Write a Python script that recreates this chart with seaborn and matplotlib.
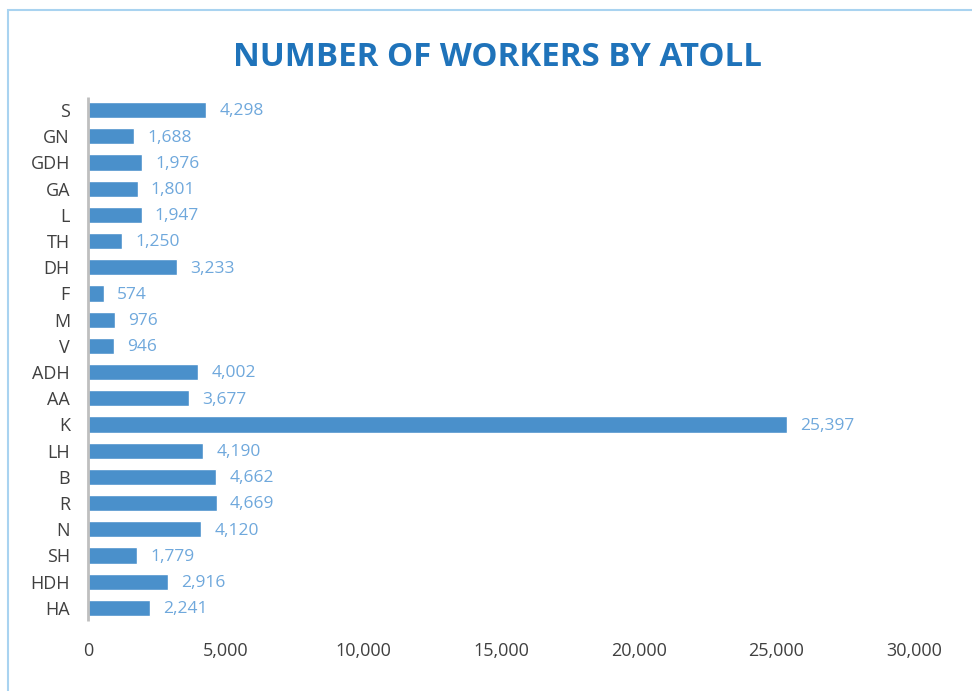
import matplotlib
matplotlib.use("Agg")
import matplotlib.pyplot as plt
import matplotlib.patches as patches
import seaborn as sns
import pandas as pd

# Atolls (top to bottom) and worker counts
atolls = ["S", "GN", "GDH", "GA", "L", "TH", "DH", "F", "M", "V",
          "ADH", "AA", "K", "LH", "B", "R", "N", "SH", "HDH", "HA"]
workers = [4298, 1688, 1976, 1801, 1947, 1250, 3233, 574, 976, 946,
           4002, 3677, 25397, 4190, 4662, 4669, 4120, 1779, 2916, 2241]
x_ticks = [0, 5000, 10000, 15000, 20000, 25000, 30000]

df = pd.DataFrame({"atoll": atolls, "workers": workers})

sns.set_style("white")
plt.rcParams["font.family"] = ["Open Sans", "DejaVu Sans"]

fig = plt.figure(figsize=(9.72, 6.91), dpi=100)
ax = fig.add_axes([88 / 972, 1 - 621 / 691, (914 - 88) / 972, (621 - 97) / 691])

sns.barplot(data=df, x="workers", y="atoll", orient="h", color="#4A90CB",
            width=0.62, saturation=1, ax=ax)

# data labels
for i, v in enumerate(workers):
    ax.text(v + 470, i + 0.05, f"{v:,}", va="center", ha="left",
            fontsize=12.5, color="#6FA8DC")

ax.set_xlim(0, 30000)
ax.set_ylim(len(atolls) - 0.5, -0.5)
ax.set_xticks(x_ticks)
ax.set_xticklabels([f"{t:,}" for t in x_ticks])
ax.set_xlabel("")
ax.set_ylabel("")
ax.tick_params(axis="x", length=0, pad=15, labelsize=13, labelcolor="#404040")
ax.tick_params(axis="y", length=0, pad=13, labelsize=13, labelcolor="#404040")

for s in ["top", "right", "bottom"]:
    ax.spines[s].set_visible(False)
ax.spines["left"].set_color("#BFBFBF")
ax.spines["left"].set_linewidth(2)
ax.spines["left"].set_capstyle("butt")

fig.text(497 / 972, 1 - 57 / 691, "NUMBER OF WORKERS BY ATOLL", ha="center", va="center",
         fontsize=23.8, fontweight="bold", color="#1F73BA")

# light blue frame around the chart area
fig.patches.append(patches.Rectangle((8 / 972, -0.1), 1.1, 1 - 10 / 691 + 0.1,
                                     transform=fig.transFigure, fill=False,
                                     edgecolor="#A9D3F0", linewidth=1.5))

fig.savefig("out.png", dpi=100)
